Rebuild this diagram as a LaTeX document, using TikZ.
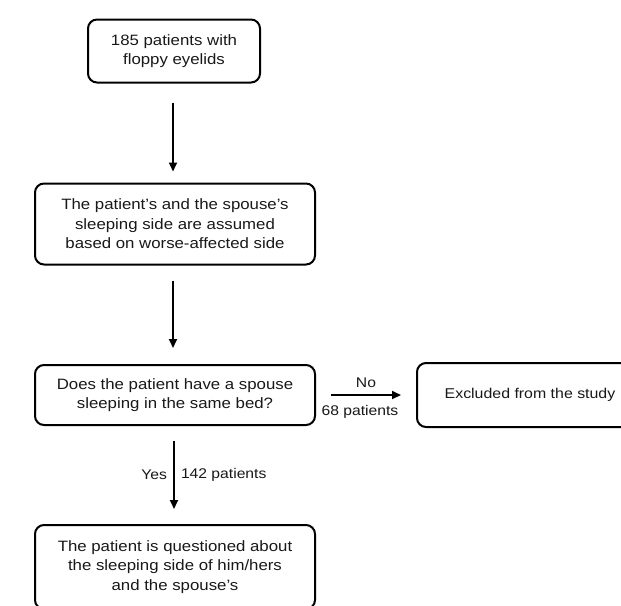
\documentclass[tikz,border=0pt]{standalone}
\usepackage{fontspec}
\setmainfont{Liberation Sans}[FakeStretch=1.12]
\usetikzlibrary{positioning, arrows.meta}

\begin{document}
\begin{tikzpicture}[x=1pt, y=-1pt,
  stepbox/.style={draw, line width=2pt, rounded corners=9pt, align=center,
    inner sep=0pt, text=black!90, font=\fontsize{15}{19.5}\selectfont},
  flow/.style={-{Triangle[length=9pt,width=8pt]}, line width=2pt},
  lbl/.style={font=\fontsize{14}{16}\selectfont, text=black!90, inner sep=2pt}]
\clip (0,0) rectangle (621,605);
\fill[white] (0,0) rectangle (621,605);

% Boxes
\node[stepbox, minimum width=172pt, minimum height=63pt] (patients) at (174,51)
  {185 patients with\\floppy eyelids};
\node[stepbox, minimum width=280pt, minimum height=81pt] (assumed) at (175,224)
  {The patient's and the spouse's\\sleeping side are assumed\\based on worse-affected side};
\node[stepbox, minimum width=280pt, minimum height=60pt] (spouse) at (175,395)
  {Does the patient have a spouse\\sleeping in the same bed?};
\node[stepbox, minimum width=226pt, minimum height=64pt,
  font=\fontsize{14.2}{17}\selectfont] (excluded) at (530,395)
  {Excluded from the study};
\node[stepbox, minimum width=280pt, minimum height=84pt] (question) at (175,567)
  {The patient is questioned about\\the sleeping side of him/hers\\and the spouse's};

% Connectors
\draw[flow, shorten <=19pt, shorten >=11pt] (patients.south -| 173,0) -- (assumed.north -| 173,0);
\draw[flow, shorten <=15pt, shorten >=16pt] (assumed.south -| 173,0) -- (spouse.north -| 173,0);
\draw[flow, shorten <=15pt, shorten >=15pt] (spouse.east) -- (excluded.west)
  node[lbl, midway, above=4pt] {No}
  node[lbl, midway, below=7pt, xshift=-6pt] {68 patients};
\draw[flow, shorten <=15pt, shorten >=15pt] (spouse.south -| 174,0) -- (question.north -| 174,0)
  node[lbl, midway, left=4pt] {Yes}
  node[lbl, midway, right=4pt] {142 patients};
\end{tikzpicture}
\end{document}
